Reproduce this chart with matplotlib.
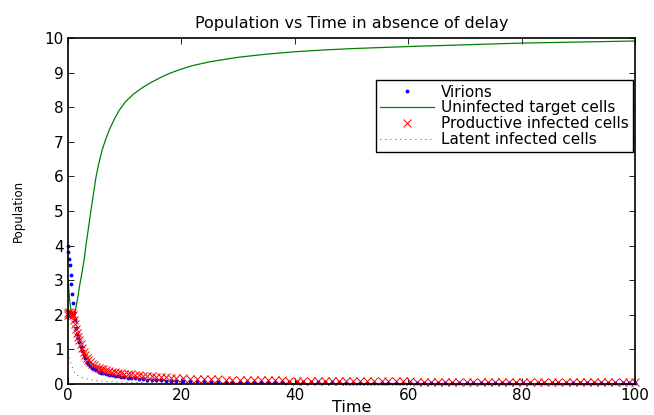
import matplotlib
matplotlib.use('Agg')
import matplotlib.pyplot as plt

# marker time grid (solver output steps)
t_early = [0, 0.05, 0.15, 0.3, 0.45, 0.6, 0.75, 0.9, 1.05, 1.2, 1.4, 1.6, 1.8, 2.0,
           2.25, 2.5, 2.75, 3.0, 3.3, 3.6, 3.9, 4.25, 4.6, 5.0, 5.4, 5.8, 6.25, 6.7,
           7.2, 7.7, 8.2, 8.75, 9.3, 9.9, 10.5, 11.1, 11.8, 12.5, 13.2, 14.0, 14.8,
           15.6, 16.4, 17.3, 18.2, 19.1]
t_tail = [20.3, 21.5, 22.8, 24.0, 25.3, 26.5, 27.8, 29.0,
          30.3, 31.5, 32.8, 34.0, 35.3, 36.5, 37.8, 39.0,
          40.3, 41.5, 42.8, 44.0, 45.3, 46.5, 47.8, 49.0,
          50.3, 51.5, 52.8, 54.0, 55.3, 56.5, 57.8, 59.0,
          60.3, 61.5, 62.8, 64.0, 65.3, 66.5, 67.8, 69.0,
          70.3, 71.5, 72.8, 74.0, 75.3, 76.5, 77.8, 79.0,
          80.3, 81.5, 82.8, 84.0, 85.3, 86.5, 87.8, 89.0,
          90.3, 91.5, 92.8, 94.0, 95.3, 96.5, 97.8, 99.0, 100.0]

virions_early = [4.0, 3.8, 3.6, 3.44, 3.15, 2.9, 2.6, 2.35, 2.05, 1.85, 1.62, 1.45,
                 1.32, 1.2, 1.07, 0.95, 0.85, 0.75, 0.65, 0.58, 0.52, 0.47, 0.43,
                 0.4, 0.36, 0.33, 0.31, 0.29, 0.27, 0.25, 0.23, 0.22, 0.2, 0.19,
                 0.18, 0.17, 0.16, 0.15, 0.14, 0.13, 0.12, 0.115, 0.11, 0.1, 0.095, 0.09]
virions_tail = [0.085, 0.082, 0.078, 0.075, 0.072, 0.07, 0.067, 0.065,
                0.063, 0.061, 0.059, 0.057, 0.056, 0.054, 0.053, 0.052,
                0.05, 0.049, 0.048, 0.047, 0.046, 0.045, 0.044, 0.043,
                0.042, 0.042, 0.041, 0.04, 0.04, 0.039, 0.038, 0.038,
                0.037, 0.037, 0.036, 0.036, 0.035, 0.035, 0.034, 0.034,
                0.034, 0.033, 0.033, 0.033, 0.032, 0.032, 0.032, 0.031,
                0.031, 0.031, 0.031, 0.03, 0.03, 0.03, 0.03, 0.029,
                0.029, 0.029, 0.029, 0.029, 0.028, 0.028, 0.028, 0.028, 0.028]

productive_early = [2.05, 2.0, 2.08, 2.02, 2.06, 2.0, 2.04, 1.98, 1.85, 1.72, 1.58,
                    1.46, 1.36, 1.27, 1.15, 1.03, 0.93, 0.84, 0.76, 0.69, 0.63, 0.58,
                    0.54, 0.5, 0.47, 0.44, 0.42, 0.4, 0.38, 0.36, 0.35, 0.33, 0.32,
                    0.3, 0.29, 0.28, 0.26, 0.25, 0.24, 0.23, 0.22, 0.21, 0.2, 0.19,
                    0.18, 0.17]
productive_tail = [0.16, 0.155, 0.15, 0.145, 0.14, 0.135, 0.13, 0.125,
                   0.12, 0.117, 0.114, 0.111, 0.108, 0.105, 0.102, 0.1,
                   0.098, 0.096, 0.094, 0.092, 0.09, 0.088, 0.086, 0.084,
                   0.083, 0.081, 0.08, 0.079, 0.077, 0.076, 0.075, 0.074,
                   0.073, 0.072, 0.071, 0.07, 0.069, 0.068, 0.067, 0.066,
                   0.065, 0.064, 0.064, 0.063, 0.062, 0.062, 0.061, 0.06,
                   0.06, 0.059, 0.059, 0.058, 0.058, 0.057, 0.057, 0.056,
                   0.056, 0.055, 0.055, 0.055, 0.054, 0.054, 0.054, 0.053, 0.053]

# uninfected target cells (smooth line)
t_target = [0, 0.15, 0.3, 0.5, 0.7, 0.9, 1.1, 1.3, 1.5, 1.8, 2.0, 2.2, 2.5, 2.9,
            3.2, 3.6, 4.0, 4.4, 4.9, 5.4, 6.0, 6.6, 7.3, 8.1, 9.0, 10.1, 11.5, 13.1,
            14.5, 16.5, 18, 20, 22, 25, 30, 35, 40, 45, 50, 60, 70, 80, 90, 100]
target = [3.0, 2.7, 2.4, 2.15, 2.03, 2.0, 2.05, 2.15, 2.3, 2.58, 2.8, 2.98, 3.25,
          3.65, 4.05, 4.5, 4.97, 5.4, 5.95, 6.35, 6.75, 7.05, 7.35, 7.63, 7.9, 8.15,
          8.37, 8.56, 8.7, 8.87, 8.98, 9.1, 9.2, 9.31, 9.44, 9.53, 9.6, 9.65, 9.69,
          9.75, 9.8, 9.85, 9.88, 9.91]

# latent infected cells
t_latent = [0, 0.1, 0.25, 0.5, 0.9, 1.5, 2.2, 3, 4, 5, 6, 8, 10, 14, 20, 30, 50, 100]
latent = [0.9, 0.84, 0.72, 0.6, 0.4, 0.26, 0.2, 0.16, 0.12, 0.1, 0.08, 0.06, 0.05,
          0.04, 0.03, 0.025, 0.02, 0.015]

t_markers = t_early + t_tail
virions = virions_early + virions_tail
productive = productive_early + productive_tail

fig = plt.figure(figsize=(6.54, 4.15), dpi=100)
ax = fig.add_axes([0.104, 0.0747, 0.867, 0.834])

ax.plot(t_markers, virions, '.', color='#0000ff', markersize=3.5, clip_on=False,
        label='Virions')
ax.plot(t_target, target, '-', color='#008000', linewidth=0.9,
        label='Uninfected target cells')
ax.plot(t_markers, productive, 'x', color='#ff0000', markersize=5.5,
        markeredgewidth=0.7, clip_on=False, label='Productive infected cells')
ax.plot(t_latent, latent, color='black', linewidth=0.6, linestyle=(0, (1, 5)),
        label='Latent infected cells')

ax.set_xlim(0, 100)
ax.set_ylim(0, 10)
ax.set_xticks([0, 20, 40, 60, 80, 100])
ax.set_yticks(range(0, 11))
ax.tick_params(direction='in', top=True, right=True, length=4, width=0.6,
               labelsize=11, pad=3)
for s in ax.spines.values():
    s.set_linewidth(1.2)

ax.set_title('Population vs Time in absence of delay', fontsize=11.5, pad=7)
ax.set_xlabel('Time', fontsize=11.5, labelpad=-2)
ax.set_ylabel('Population', fontsize=8.5, labelpad=14)

leg = ax.legend(loc='upper right', bbox_to_anchor=(0.968, 0.807),
                bbox_transform=fig.transFigure, borderaxespad=0,
                fontsize=11, labelspacing=0.05, handlelength=3.5,
                handletextpad=0.45, borderpad=0.3, fancybox=False,
                framealpha=1, edgecolor='black')
leg.get_frame().set_linewidth(1.0)

fig.savefig('out.png', dpi=100)
